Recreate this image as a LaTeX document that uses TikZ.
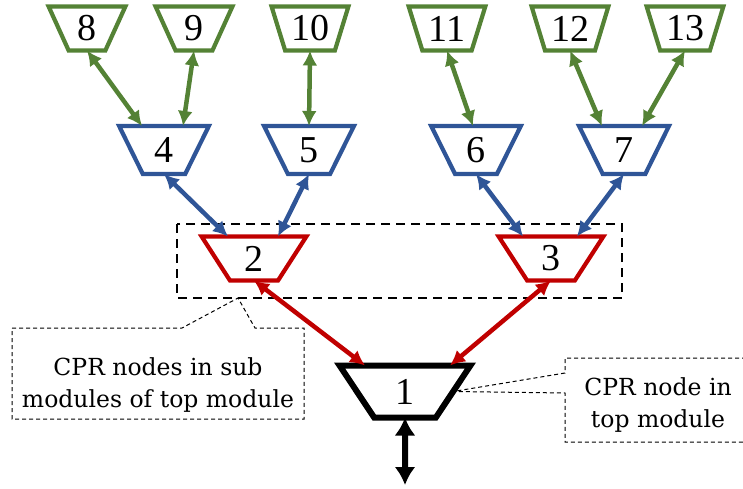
\documentclass[tikz,border=0pt]{standalone}
\usepackage{fontspec}
\newfontfamily\cprfont{Liberation Serif}
\newfontfamily\notefont{DejaVu Serif}
\usetikzlibrary{shapes.geometric,arrows.meta}

\definecolor{cprgreen}{RGB}{84,130,53}
\definecolor{cprblue}{RGB}{47,85,151}
\definecolor{cprred}{RGB}{192,0,0}

\begin{document}
\begin{tikzpicture}[x=1pt,y=-1pt,
  cpr/.style={trapezium,shape border rotate=180,trapezium stretches=true,
    inner sep=0pt,outer sep=0pt,fill=white,font=\cprfont\fontsize{38}{40}\selectfont},
  leaf/.style={cpr,draw=cprgreen,line width=4.2pt,trapezium angle=68,minimum width=77pt,minimum height=44pt},
  sub/.style={cpr,draw=cprblue,line width=4.2pt,trapezium angle=67,minimum width=90pt,minimum height=48pt},
  mid/.style={cpr,draw=cprred,line width=4.2pt,trapezium angle=66,minimum width=105pt,minimum height=44pt},
  root/.style={cpr,draw=black,line width=6pt,trapezium angle=67,minimum width=131pt,minimum height=52pt},
  link/.style={line width=4.5pt,{Latex[length=15pt,width=15pt]}-{Latex[length=15pt,width=15pt]}},
  group/.style={draw,line width=2.6pt,dash pattern=on 9pt off 6pt},
  callout/.style={draw,line width=1pt,dash pattern=on 4pt off 3pt},
  note/.style={align=center,inner sep=0pt,font=\notefont\fontsize{23.5}{32}\selectfont}
]
\useasboundingbox (0,0) rectangle (743,489);

% leaves
\node[leaf] (n8) at (87,28.5) {8};
\node[leaf] (n9) at (194,28.5) {9};
\node[leaf] (n10) at (310,28.5) {10};
\node[leaf] (n11) at (447,28.5) {11};
\node[leaf] (n12) at (570,28.5) {12};
\node[leaf] (n13) at (685,28.5) {13};

\node[sub] (n4) at (164,150) {4};
\node[sub] (n5) at (309,150) {5};
\node[sub] (n6) at (476,150) {6};
\node[sub] (n7) at (624,150) {7};

\draw[group] (177,224) rectangle (622,298);
\node[mid] (n2) at (254,258.5) {2};
\node[mid] (n3) at (551,258.5) {3};

\node[root] (n1) at (405,391.5) {1};
\coordinate (out) at (405,485);

\draw[link,cprgreen] (n8.south) -- ([xshift=-22pt]n4.north);
\draw[link,cprgreen] (n9.south) -- ([xshift=19pt]n4.north);
\draw[link,cprgreen] (n10.south) -- (n5.north);
\draw[link,cprgreen] (n11.south) -- ([xshift=-3pt]n6.north);
\draw[link,cprgreen] (n12.south) -- ([xshift=-22pt]n7.north);
\draw[link,cprgreen] (n13.south) -- ([xshift=18pt]n7.north);

\draw[link,cprblue] (n4.south) -- ([xshift=-26pt]n2.north);
\draw[link,cprblue] (n5.south) -- ([xshift=24pt]n2.north);
\draw[link,cprblue] (n6.south) -- ([xshift=-28pt]n3.north);
\draw[link,cprblue] (n7.south) -- ([xshift=26pt]n3.north);

\draw[link,cprred] (n2.south) -- ([xshift=-40pt]n1.north);
\draw[link,cprred] (n3.south) -- ([xshift=45pt]n1.north);

\draw[line width=6pt,{Latex[length=18pt,width=21pt]}-{Latex[length=18pt,width=21pt]}] (n1.south) -- (out);

% callouts
\coordinate (tipA) at (238,298);
\node[note] (noteA) at (158,385) {CPR nodes in sub\\modules of top module};
\draw[callout] (12,328) -- (182,328) -- (tipA) -- (255,328) -- (304,328) -- (304,419) -- (12,419) -- cycle;

\node[note] (noteB) at (658,405) {CPR node in\\top module};
\draw[callout] (760,358) -- (565,358) -- (565,373) -- (n1.east) -- (565,393) -- (565,442) -- (760,442);
\end{tikzpicture}
\end{document}
